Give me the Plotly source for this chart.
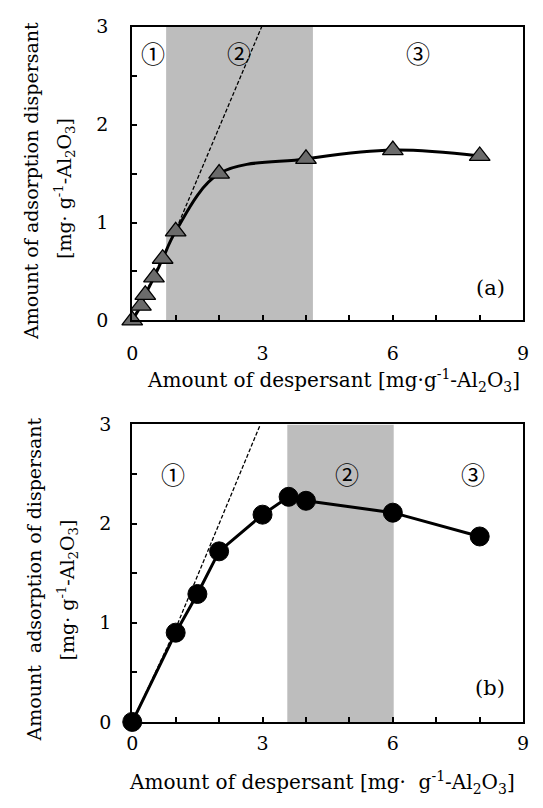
import plotly.graph_objects as go

# ---- data: panel (a) ----
xa = [0, 0.2, 0.3, 0.5, 0.7, 1.0, 2.0, 4.0, 6.0, 8.0]
ya = [0, 0.15, 0.26, 0.44, 0.63, 0.91, 1.50, 1.65, 1.74, 1.68]
dash_a_x = [0, 1.0, 2.98]
dash_a_y = [0, 0.92, 3.0]
shade_a = [0.78, 4.16]

# ---- data: panel (b) ----
xb = [0, 1.0, 1.5, 2.0, 3.0, 3.6, 4.0, 6.0, 8.0]
yb = [0, 0.90, 1.29, 1.72, 2.09, 2.27, 2.23, 2.11, 1.87]
dash_b_x = [0, 0.95, 2.95]
dash_b_y = [0, 0.89, 3.0]
shade_b = [3.57, 6.02]

region_labels = ["①", "②", "③"]
region_a_x = [0.47, 2.45, 6.57]
region_a_y = 2.74
region_b_x = [0.93, 4.94, 7.84]
region_b_y = 2.5

x_ticks = [0, 3, 6, 9]
y_ticks = [0, 1, 2, 3]

SERIF = "DejaVu Serif"
CIRC = "Noto Sans CJK JP"
W, H = 527, 792

def px(v):
    return v / W

def py(v):
    return 1 - v / H

fig = go.Figure()

fig.add_trace(go.Scatter(x=dash_a_x, y=dash_a_y, mode="lines", xaxis="x", yaxis="y",
                         line=dict(color="black", width=1.3, dash="4px,2px"), showlegend=False))
fig.add_trace(go.Scatter(x=xa, y=ya, mode="lines+markers", xaxis="x", yaxis="y",
                         line=dict(color="black", width=3, shape="spline", smoothing=1.0),
                         marker=dict(symbol="triangle-up", size=18, color="#6b6b6b",
                                     line=dict(color="black", width=1.3)),
                         cliponaxis=False, showlegend=False))
fig.add_trace(go.Scatter(x=dash_b_x, y=dash_b_y, mode="lines", xaxis="x2", yaxis="y2",
                         line=dict(color="black", width=1.3, dash="4px,2px"), showlegend=False))
fig.add_trace(go.Scatter(x=xb, y=yb, mode="lines+markers", xaxis="x2", yaxis="y2",
                         line=dict(color="black", width=3),
                         marker=dict(symbol="circle", size=19, color="black",
                                     line=dict(color="black", width=1)),
                         cliponaxis=False, showlegend=False))

xdom = [px(121), px(521)]
ydom_a = [py(310), py(8)]
ydom_b = [py(723), py(417)]

tickfont = dict(family=SERIF, size=19, color="black")
axis_common = dict(showline=True, mirror=True, linecolor="black", linewidth=2,
                   ticks="inside", ticklen=5, tickwidth=1.5, tickcolor="black",
                   showgrid=False, zeroline=False, tickfont=tickfont,
                   ticklabeloverflow="allow")

xaxis_cfg = dict(axis_common, range=[0, 9], tickvals=x_ticks,
                 minor=dict(dtick=1, ticks="inside", ticklen=5, tickwidth=1.5, tickcolor="black"),
                 domain=xdom)
yaxis_cfg = dict(axis_common, range=[0, 3], tickvals=y_ticks,
                 minor=dict(dtick=0.5, ticks="inside", ticklen=5, tickwidth=1.5, tickcolor="black"))

fig.update_layout(
    width=W, height=H,
    margin=dict(l=0, r=0, t=0, b=0),
    font=dict(family=SERIF, size=19, color="black"),
    paper_bgcolor="white", plot_bgcolor="white",
    xaxis=dict(xaxis_cfg, anchor="y", ticklabelstandoff=15),
    yaxis=dict(yaxis_cfg, domain=ydom_a, anchor="x", ticklabelstandoff=18),
    xaxis2=dict(xaxis_cfg, anchor="y2", ticklabelstandoff=3),
    yaxis2=dict(yaxis_cfg, domain=ydom_b, anchor="x2", ticklabelstandoff=15),
)

fig.add_shape(type="rect", xref="x", yref="y", x0=shade_a[0], x1=shade_a[1], y0=0, y1=3,
              fillcolor="#bdbdbd", line=dict(width=0), layer="below")
fig.add_shape(type="rect", xref="x2", yref="y2", x0=shade_b[0], x1=shade_b[1], y0=0, y1=3,
              fillcolor="#bdbdbd", line=dict(width=0), layer="below")

annos = []
def anno(**kw):
    d = dict(showarrow=False, xanchor="center", yanchor="middle")
    d.update(kw)
    annos.append(d)

cfont = dict(family=CIRC, size=24, color="black")
for lab, xv in zip(region_labels, region_a_x):
    anno(x=xv, y=region_a_y, xref="x", yref="y", text=lab, font=cfont)
for lab, xv in zip(region_labels, region_b_x):
    anno(x=xv, y=region_b_y, xref="x2", yref="y2", text=lab, font=cfont)
pfont = dict(family=SERIF, size=21, color="black")
anno(x=8.24, y=0.33, xref="x", yref="y", text="(a)", font=pfont)
anno(x=8.24, y=0.34, xref="x2", yref="y2", text="(b)", font=pfont)

yfont = dict(family=SERIF, size=19, color="black")
xfont = dict(family=SERIF, size=20, color="black")
unit = "[mg· g<sup>-1</sup>-Al<sub>2</sub>O<sub>3</sub>]"
anno(x=px(18), y=py(167), xref="paper", yref="paper", text="Amount of adsorption dispersant",
     textangle=-90, font=yfont)
anno(x=px(51), y=py(174), xref="paper", yref="paper", text=unit, textangle=-90, font=yfont)
anno(x=px(20), y=py(577), xref="paper", yref="paper", text="Amount  adsorption of dispersant",
     textangle=-90, font=yfont)
anno(x=px(55), y=py(587), xref="paper", yref="paper", text=unit, textangle=-90, font=yfont)
anno(x=px(327), y=py(372), xref="paper", yref="paper",
     text="Amount of despersant [mg·g<sup>-1</sup>-Al<sub>2</sub>O<sub>3</sub>]", font=xfont)
anno(x=px(315), y=py(785), xref="paper", yref="paper",
     text="Amount of despersant [mg·  g<sup>-1</sup>-Al<sub>2</sub>O<sub>3</sub>]", font=xfont)

fig.update_layout(annotations=annos)

fig.write_html("out.html")
